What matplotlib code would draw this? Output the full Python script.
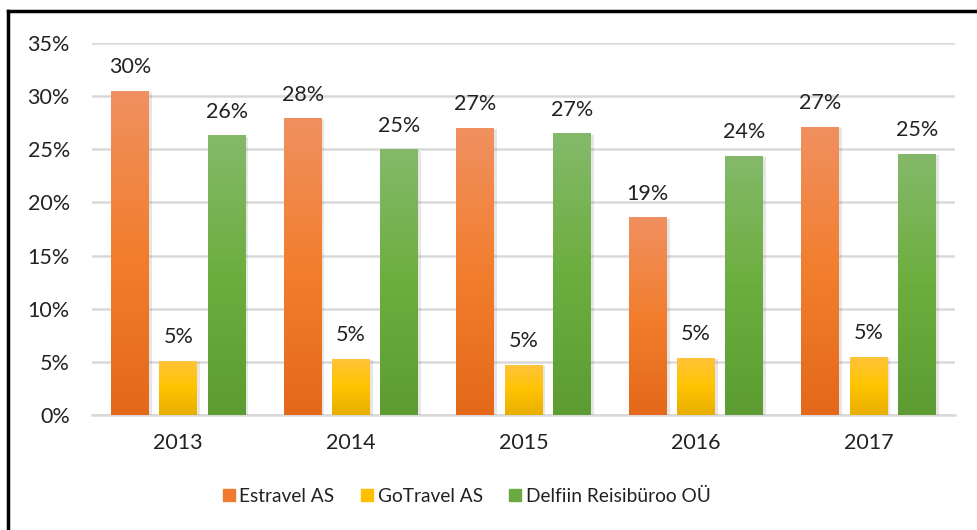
import matplotlib
matplotlib.use("Agg")
import matplotlib.pyplot as plt
import numpy as np
from matplotlib.colors import LinearSegmentedColormap
from matplotlib import patheffects as pe
from matplotlib.lines import Line2D

years = ["2013", "2014", "2015", "2016", "2017"]
series_names = ["Estravel AS", "GoTravel AS", "Delfiin Reisibüroo OÜ"]
estravel = [30.5, 27.9, 27.0, 18.6, 27.1]
gotravel = [5.1, 5.3, 4.7, 5.4, 5.5]
delfiin = [26.3, 25.0, 26.5, 24.4, 24.6]
estravel_labels = ["30%", "28%", "27%", "19%", "27%"]
gotravel_labels = ["5%", "5%", "5%", "5%", "5%"]
delfiin_labels = ["26%", "25%", "27%", "24%", "25%"]
yticks = [0, 5, 10, 15, 20, 25, 30, 35]

values = [estravel, gotravel, delfiin]
labels = [estravel_labels, gotravel_labels, delfiin_labels]
grads = [
    ["#F09060", "#F27E2E", "#E4681A"],
    ["#FFC43A", "#FFC300", "#E8AE00"],
    ["#84B96A", "#6CAE3E", "#5C9C32"],
]
legend_colors = ["#F07A2E", "#FFC000", "#6AAA40"]

plt.rcParams['font.family'] = ['Lato', 'DejaVu Sans']

fig = plt.figure(figsize=(9.78, 5.30), dpi=100)
ax = fig.add_axes([92/978, 1-415/530, (955-92)/978, (415-43)/530])

x = np.arange(len(years))
width = 0.22
offsets = [-0.28, 0.0, 0.28]

for vals, labs, offs, g in zip(values, labels, offsets, grads):
    bars = ax.bar(x + offs, vals, width=width, color=g[1], zorder=3)
    cmap = LinearSegmentedColormap.from_list("g", [g[2], g[1], g[0]])
    for b, lab in zip(bars, labs):
        b.set_path_effects([pe.SimplePatchShadow(offset=(2, -1), alpha=0.18, shadow_rgbFace="#777777"), pe.Normal()])
        x0, y0 = b.get_x(), b.get_y()
        w, h = b.get_width(), b.get_height()
        grad = np.linspace(0, 1, 256).reshape(-1, 1)
        im = ax.imshow(grad, extent=[x0, x0 + w, y0, y0 + h], origin="lower",
                       cmap=cmap, aspect="auto", zorder=3.5)
        im.set_clip_path(b)
        ax.annotate(lab, (x0 + w / 2, y0 + h), xytext=(0, 17), textcoords="offset points",
                    ha="center", va="center", fontsize=15.5, color="#222222", zorder=5)

ax.set_xlim(-0.5, len(years) - 0.5)
ax.set_ylim(0, 35)
ax.set_yticks(yticks)
ax.set_yticklabels([f"{t}%" for t in yticks])
ax.set_xticks(x)
ax.set_xticklabels(years)
ax.tick_params(axis="both", length=0, labelsize=15.5, colors="#222222")
ax.tick_params(axis="x", pad=13)
ax.tick_params(axis="y", pad=16)
ax.grid(axis="y", color="#D9D9D9", linewidth=1.8, zorder=0)
for s in ["top", "right", "left"]:
    ax.spines[s].set_visible(False)
ax.spines["bottom"].set_color("#D9D9D9")
ax.spines["bottom"].set_linewidth(1.8)
ax.set_axisbelow(True)

handles = [Line2D([0], [0], marker="s", linestyle="none", markersize=9,
                  markerfacecolor=c, markeredgecolor=c) for c in legend_colors]
fig.legend(handles, series_names, loc="center", bbox_to_anchor=(465/978, 1-496/530),
           ncol=3, frameon=False, fontsize=13.8, handletextpad=0.05, columnspacing=1.2,
           handlelength=1.0, labelcolor="#222222")

# partial frame (left and top lines)
fig.add_artist(Line2D([8/978, 8/978], [0, 1-11/530], transform=fig.transFigure, color="black", linewidth=2.5))
fig.add_artist(Line2D([8/978, 1], [1-11/530, 1-11/530], transform=fig.transFigure, color="black", linewidth=2.5))

fig.savefig("out.png", dpi=100)
